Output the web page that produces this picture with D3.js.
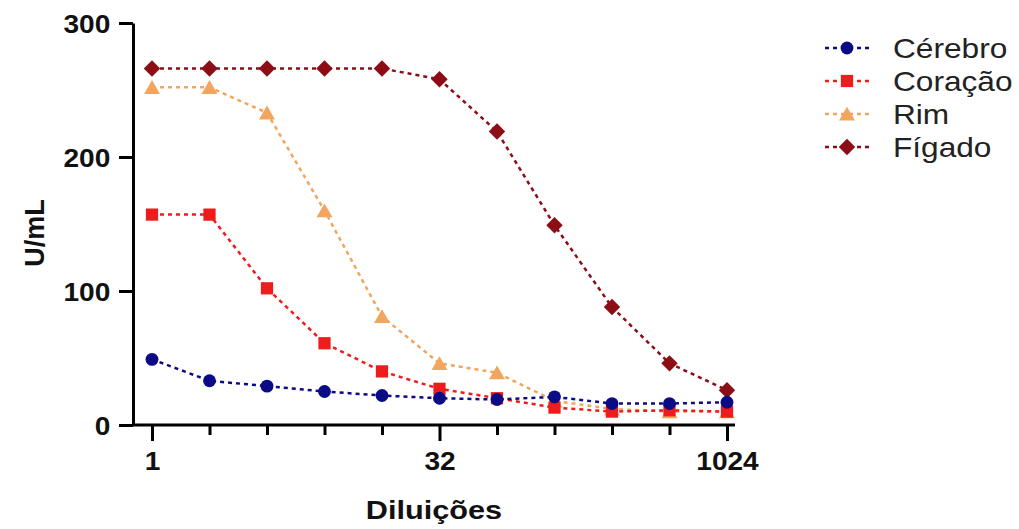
<!DOCTYPE html>
<html>
<head>
<meta charset="utf-8">
<script src="https://cdn.jsdelivr.net/npm/d3@7"></script>
<style>
  body { margin: 0; background: #fff; }
  svg { display: block; font-family: "Liberation Sans", Arial, sans-serif; }
</style>
</head>
<body>
<div id="chart"></div>
<script>
// dilution steps (x) and measured U/mL for each tissue
var dilutions = [1, 2, 4, 8, 16, 32, 64, 128, 256, 512, 1024];
var xTickLabels = [1, 32, 1024];
var yTicks = [0, 100, 200, 300];
var seriesNames = ["Cérebro", "Coração", "Rim", "Fígado"];
var cerebro = [49, 33, 29, 25, 22, 20, 19, 21, 16, 16, 17];
var coracao = [157, 157, 102, 61, 40, 27, 20, 13, 10, 11, 10];
var rim = [252, 252, 233, 160, 81, 46, 39, 18, 12, 10, 10];
var figado = [266, 266, 266, 266, 266, 258, 219, 149, 88, 46, 26];

var colors = ["#0b0b86", "#ee1c1c", "#f2a55e", "#8c0d16"];
var symbols = [d3.symbolCircle, d3.symbolSquare, d3.symbolTriangle, d3.symbolSquare];
var symSizes = [130, 150, 110, 135];
var symRotate = [0, 0, 0, 45];

var width = 1019, height = 529;

var svg = d3.select("#chart").append("svg")
    .attr("width", width)
    .attr("height", height);

var x = d3.scaleLog().base(2)
    .domain([1, 1024])
    .range([152, 727]);

var y = d3.scaleLinear()
    .domain([0, 300])
    .range([425, 23]);

var axisX0 = 133;

// y axis
var yAxis = svg.append("g")
    .attr("transform", "translate(" + axisX0 + ",0)")
    .call(d3.axisLeft(y).tickValues(yTicks).tickSize(14).tickSizeOuter(0).tickPadding(7));

yAxis.select(".domain").attr("stroke", "#000").attr("stroke-width", 3);
yAxis.selectAll(".tick line").attr("stroke", "#000").attr("stroke-width", 3);
yAxis.selectAll(".tick text")
    .attr("font-size", 26)
    .attr("font-weight", "bold")
    .attr("fill", "#111")
    .attr("transform", "scale(1.08,1)")
    .attr("dy", "0.36em");

// x axis
var xAxis = svg.append("g")
    .attr("transform", "translate(0," + y(0) + ")")
    .call(d3.axisBottom(x).tickValues(dilutions)
        .tickFormat(function (d) { return xTickLabels.indexOf(d) >= 0 ? d : ""; })
        .tickSizeOuter(0).tickSize(11).tickPadding(16));

xAxis.select(".domain")
    .attr("d", "M" + axisX0 + ",0H" + (x(1024) + 8))
    .attr("stroke", "#000").attr("stroke-width", 3);
xAxis.selectAll(".tick line")
    .attr("stroke", "#000").attr("stroke-width", 3)
    .attr("y2", function (d) { return xTickLabels.indexOf(d) >= 0 ? 16 : 10; });
xAxis.selectAll(".tick text")
    .attr("font-size", 26)
    .attr("font-weight", "bold")
    .attr("fill", "#111")
    .attr("transform", "scale(1.08,1)");

// axis titles
svg.append("text")
    .attr("transform", "translate(434,519) scale(1.18,1)")
    .attr("text-anchor", "middle")
    .attr("font-size", 26)
    .attr("font-weight", "bold")
    .attr("fill", "#111")
    .text("Diluições");

svg.append("text")
    .attr("transform", "translate(44,233) rotate(-90)")
    .attr("text-anchor", "middle")
    .attr("font-size", 27)
    .attr("font-weight", "bold")
    .attr("fill", "#111")
    .text("U/mL");

// data series
var data = [cerebro, coracao, rim, figado].map(function (vals, i) {
    return {
        name: seriesNames[i],
        color: colors[i],
        symbol: symbols[i],
        size: symSizes[i],
        rot: symRotate[i],
        values: vals.map(function (v, j) { return {x: dilutions[j], y: v}; })
    };
});

var line = d3.line()
    .x(function (d) { return x(d.x); })
    .y(function (d) { return y(d.y); });

function markTransform(s, px, py) {
    var dy = s.symbol === d3.symbolTriangle ? 2 : 0;
    return "translate(" + px + "," + (py + dy) + ") rotate(" + s.rot + ")";
}

var drawOrder = data.slice().reverse();

var series = svg.append("g").selectAll(".series")
    .data(drawOrder)
    .enter()
    .append("g")
    .attr("class", "series");

series.append("path")
    .attr("d", function (d) { return line(d.values); })
    .attr("fill", "none")
    .attr("stroke", function (d) { return d.color; })
    .attr("stroke-width", 2.5)
    .attr("stroke-dasharray", "4,4");

series.selectAll(".pt")
    .data(function (d) {
        return d.values.map(function (v) { return {v: v, s: d}; });
    })
    .enter()
    .append("path")
    .attr("class", "pt")
    .attr("transform", function (d) { return markTransform(d.s, x(d.v.x), y(d.v.y)); })
    .attr("d", function (d) { return d3.symbol().type(d.s.symbol).size(d.s.size)(); })
    .attr("fill", function (d) { return d.s.color; });

// legend
var legend = svg.append("g").selectAll(".legend")
    .data(data)
    .enter()
    .append("g")
    .attr("class", "legend")
    .attr("transform", function (d, i) { return "translate(847," + (48 + i * 33) + ")"; });

legend.append("line")
    .attr("x1", -22).attr("x2", 22)
    .attr("stroke", function (d) { return d.color; })
    .attr("stroke-width", 2.5)
    .attr("stroke-dasharray", "4,4");

legend.append("path")
    .attr("transform", function (d) { return markTransform(d, 0, 0); })
    .attr("d", function (d) { return d3.symbol().type(d.symbol).size(d.size)(); })
    .attr("fill", function (d) { return d.color; });

legend.append("text")
    .attr("transform", "translate(46,0) scale(1.13,1)")
    .attr("dy", "0.36em")
    .attr("font-size", 28)
    .attr("fill", "#222")
    .text(function (d) { return d.name; });
</script>
</body>
</html>
